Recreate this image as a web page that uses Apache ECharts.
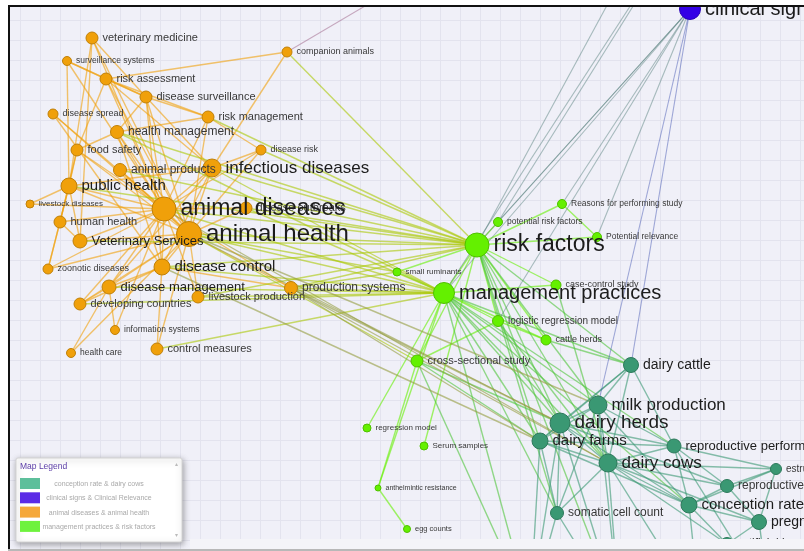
<!DOCTYPE html>
<html>
<head>
<meta charset="utf-8">
<script src="https://cdn.jsdelivr.net/npm/echarts@6/dist/echarts.min.js"></script>
<style>
  html, body { margin: 0; padding: 0; background: #fff; }
  #chart { position: absolute; left: 0; top: 0; width: 804px; height: 551px; }
  .mask { position: absolute; background: #fff; z-index: 5; }
</style>
</head>
<body>
<div id="chart"></div>
<div class="mask" style="left:0;top:0;width:804px;height:5px"></div>
<div class="mask" style="left:0;top:0;width:8px;height:551px"></div>
<div class="mask" style="left:8px;top:5px;width:796px;height:2px;background:#111"></div>
<div class="mask" style="left:8px;top:5px;width:2px;height:545px;background:#111"></div>
<div class="mask" style="left:190px;top:539px;width:614px;height:10px;background:#f4f4f8"></div>
<div class="mask" style="left:8px;top:549px;width:796px;height:2px;background:#b8b8b8"></div>
<script>
// clusters of the keyword map
const clusters = [
  'conception rate & dairy cows',
  'clinical signs & Clinical Relevance',
  'animal diseases & animal health',
  'management practices & risk factors'
]
const clusterColors = ['#3a9873', '#3300e6', '#f0a00a', '#64f000']
const legendColors = ['#5dbf9b', '#5b2be6', '#f5a83a', '#6ef23d']

// [keyword, map x, map y, weight]
const dairyNodes = [
  ['dairy cattle', 631, 365, 15],
  ['milk production', 598, 405, 18],
  ['dairy herds', 560, 423, 20],
  ['dairy farms', 540, 441, 16],
  ['reproductive performance', 674, 446, 14],
  ['dairy cows', 608, 463, 18],
  ['estrus detection', 776, 469, 11],
  ['reproductive efficiency', 727, 486, 13],
  ['somatic cell count', 557, 513, 13],
  ['conception rate', 689, 505, 16],
  ['pregnancy rate', 759, 522, 15],
  ['artificial insemination', 727, 544, 13],
  ['calving interval', 530, 610, 12],
  ['lactation', 620, 615, 12],
  ['fertility', 700, 610, 12],
  ['heifers', 770, 600, 12]
]
const clinicalNodes = [
  ['clinical signs', 690, 9, 21],
  ['Clinical Relevance', 675, -120, 16],
  ['clinical examination', 712, -120, 14],
  ['diagnosis', 477, -60, 12]
]
const animalNodes = [
  ['veterinary medicine', 92, 38, 12],
  ['surveillance systems', 67, 61, 9],
  ['risk assessment', 106, 79, 12],
  ['disease surveillance', 146, 97, 12],
  ['companion animals', 287, 52, 10],
  ['disease spread', 53, 114, 10],
  ['risk management', 208, 117, 12],
  ['health management', 117, 132, 13],
  ['disease risk', 261, 150, 10],
  ['food safety', 77, 150, 12],
  ['animal products', 120, 170, 13],
  ['infectious diseases', 212, 168, 18],
  ['public health', 69, 186, 16],
  ['livestock diseases', 30, 204, 8],
  ['disease outbreaks', 246, 208, 12],
  ['animal diseases', 164, 209, 24],
  ['human health', 60, 222, 12],
  ['animal health', 189, 234, 25],
  ['Veterinary Services', 80, 241, 14],
  ['zoonotic diseases', 48, 269, 10],
  ['disease control', 162, 267, 16],
  ['disease management', 109, 287, 14],
  ['livestock production', 198, 297, 12],
  ['production systems', 291, 288, 13],
  ['developing countries', 80, 304, 12],
  ['information systems', 115, 330, 9],
  ['control measures', 157, 349, 12],
  ['health care', 71, 353, 9]
]
const practiceNodes = [
  ['risk factors', 477, 245, 24],
  ['management practices', 444, 293, 21],
  ['Reasons for performing study', 562, 204, 9],
  ['potential risk factors', 498, 222, 9],
  ['Potential relevance', 597, 237, 9],
  ['small ruminants', 397, 272, 8],
  ['case-control study', 556, 285, 10],
  ['logistic regression model', 498, 321, 11],
  ['cattle herds', 546, 340, 10],
  ['cross-sectional study', 417, 361, 12],
  ['regression model', 367, 428, 8],
  ['Serum samples', 424, 446, 8],
  ['anthelmintic resistance', 378, 488, 6],
  ['egg counts', 407, 529, 7]
]
const hiddenLabels = ['calving interval', 'lactation', 'fertility', 'heifers',
  'Clinical Relevance', 'clinical examination', 'diagnosis']

const animalLinks = [
  ['veterinary medicine', 'animal diseases'], ['veterinary medicine', 'animal health'],
  ['veterinary medicine', 'public health'], ['veterinary medicine', 'Veterinary Services'],
  ['veterinary medicine', 'disease surveillance'], ['surveillance systems', 'disease surveillance'],
  ['surveillance systems', 'animal diseases'], ['surveillance systems', 'public health'],
  ['surveillance systems', 'risk assessment'], ['risk assessment', 'animal diseases'],
  ['risk assessment', 'animal health'], ['risk assessment', 'disease surveillance'],
  ['risk assessment', 'companion animals'], ['risk assessment', 'infectious diseases'],
  ['risk assessment', 'risk management'], ['risk assessment', 'food safety'],
  ['disease surveillance', 'animal diseases'], ['disease surveillance', 'animal health'],
  ['disease surveillance', 'infectious diseases'], ['disease surveillance', 'disease control'],
  ['disease surveillance', 'health management'], ['disease surveillance', 'risk management'],
  ['companion animals', 'infectious diseases'], ['disease spread', 'animal diseases'],
  ['disease spread', 'animal health'], ['disease spread', 'disease control'],
  ['risk management', 'health management'], ['risk management', 'animal health'],
  ['risk management', 'animal diseases'], ['risk management', 'disease risk'],
  ['health management', 'animal diseases'], ['health management', 'animal health'],
  ['health management', 'disease control'], ['health management', 'food safety'],
  ['disease risk', 'animal diseases'], ['disease risk', 'animal health'],
  ['disease risk', 'infectious diseases'], ['food safety', 'public health'],
  ['food safety', 'animal diseases'], ['food safety', 'animal health'],
  ['food safety', 'human health'], ['animal products', 'animal diseases'],
  ['animal products', 'animal health'], ['animal products', 'infectious diseases'],
  ['infectious diseases', 'animal diseases'], ['infectious diseases', 'animal health'],
  ['infectious diseases', 'disease control'], ['infectious diseases', 'public health'],
  ['infectious diseases', 'disease management'], ['public health', 'animal diseases'],
  ['public health', 'animal health'], ['public health', 'human health'],
  ['public health', 'zoonotic diseases'], ['public health', 'Veterinary Services'],
  ['livestock diseases', 'animal diseases'], ['livestock diseases', 'public health'],
  ['animal diseases', 'animal health'], ['animal diseases', 'disease outbreaks'],
  ['animal diseases', 'Veterinary Services'], ['animal diseases', 'disease control'],
  ['animal diseases', 'disease management'], ['animal diseases', 'livestock production'],
  ['animal diseases', 'production systems'], ['animal diseases', 'developing countries'],
  ['animal diseases', 'information systems'], ['animal diseases', 'human health'],
  ['animal diseases', 'zoonotic diseases'], ['animal health', 'Veterinary Services'],
  ['animal health', 'disease control'], ['animal health', 'disease management'],
  ['animal health', 'livestock production'], ['animal health', 'production systems'],
  ['animal health', 'developing countries'], ['animal health', 'control measures'],
  ['animal health', 'health care'], ['animal health', 'disease outbreaks'],
  ['disease control', 'disease management'], ['disease control', 'developing countries'],
  ['disease control', 'production systems'], ['disease control', 'control measures'],
  ['disease management', 'developing countries'], ['disease management', 'health care'],
  ['disease management', 'information systems'], ['human health', 'zoonotic diseases'],
  ['human health', 'Veterinary Services'], ['zoonotic diseases', 'animal health']
]
const practiceLinks = [
  ['risk factors', 'management practices'], ['risk factors', 'potential risk factors'],
  ['risk factors', 'small ruminants'], ['risk factors', 'case-control study'],
  ['risk factors', 'logistic regression model'], ['risk factors', 'cattle herds'],
  ['risk factors', 'cross-sectional study'], ['risk factors', 'Reasons for performing study'],
  ['risk factors', 'Potential relevance'], ['risk factors', 'Serum samples'],
  ['Reasons for performing study', 'Potential relevance'],
  ['management practices', 'small ruminants'], ['management practices', 'case-control study'],
  ['management practices', 'logistic regression model'], ['management practices', 'cattle herds'],
  ['management practices', 'cross-sectional study'], ['management practices', 'regression model'],
  ['management practices', 'anthelmintic resistance'],
  ['cross-sectional study', 'anthelmintic resistance'], ['anthelmintic resistance', 'egg counts'],
  ['logistic regression model', 'cross-sectional study'], ['logistic regression model', 'cattle herds']
]
const crossLinks = [
  ['risk factors', 'companion animals'], ['risk factors', 'risk management'],
  ['risk factors', 'disease risk'], ['risk factors', 'infectious diseases'],
  ['risk factors', 'animal products'], ['risk factors', 'animal diseases'],
  ['risk factors', 'disease outbreaks'], ['risk factors', 'animal health'],
  ['risk factors', 'disease control'], ['risk factors', 'production systems'],
  ['risk factors', 'public health'], ['risk factors', 'health management'],
  ['risk factors', 'livestock production'], ['risk factors', 'Veterinary Services'],
  ['management practices', 'animal health'], ['management practices', 'animal diseases'],
  ['management practices', 'production systems'], ['management practices', 'disease control'],
  ['management practices', 'disease management'], ['management practices', 'livestock production'],
  ['management practices', 'control measures'], ['management practices', 'infectious diseases'],
  ['management practices', 'disease outbreaks'], ['management practices', 'health management'],
  ['management practices', 'developing countries'], ['small ruminants', 'animal health'],
  ['small ruminants', 'production systems'], ['cross-sectional study', 'animal health'],
  ['risk factors', 'dairy herds'], ['risk factors', 'dairy farms'],
  ['risk factors', 'dairy cows'], ['risk factors', 'dairy cattle'],
  ['risk factors', 'milk production'], ['risk factors', 'somatic cell count'],
  ['management practices', 'dairy herds'], ['management practices', 'dairy farms'],
  ['management practices', 'dairy cows'], ['management practices', 'milk production'],
  ['management practices', 'dairy cattle'], ['management practices', 'reproductive performance'],
  ['management practices', 'somatic cell count'], ['management practices', 'conception rate'],
  ['cattle herds', 'dairy cattle'], ['logistic regression model', 'dairy herds'],
  ['logistic regression model', 'dairy cows'], ['cross-sectional study', 'dairy farms'],
  ['cross-sectional study', 'dairy herds'], ['case-control study', 'dairy cows'],
  ['management practices', 'calving interval'], ['cross-sectional study', 'calving interval'],
  ['risk factors', 'lactation'],
  ['production systems', 'dairy herds'], ['production systems', 'dairy farms'],
  ['production systems', 'dairy cows'], ['animal health', 'dairy herds'],
  ['animal health', 'milk production'], ['disease control', 'dairy farms'],
  ['animal diseases', 'dairy cows']
]
const dairyLinks = [
  ['dairy cattle', 'milk production'], ['dairy cattle', 'dairy herds'],
  ['dairy cattle', 'dairy cows'], ['dairy cattle', 'dairy farms'],
  ['dairy cattle', 'reproductive performance'], ['milk production', 'dairy herds'],
  ['milk production', 'dairy farms'], ['milk production', 'dairy cows'],
  ['milk production', 'reproductive performance'], ['milk production', 'conception rate'],
  ['milk production', 'somatic cell count'], ['dairy herds', 'dairy farms'],
  ['dairy herds', 'dairy cows'], ['dairy herds', 'reproductive performance'],
  ['dairy herds', 'conception rate'], ['dairy herds', 'somatic cell count'],
  ['dairy herds', 'reproductive efficiency'], ['dairy farms', 'dairy cows'],
  ['dairy farms', 'somatic cell count'], ['dairy farms', 'conception rate'],
  ['dairy farms', 'reproductive performance'], ['dairy cows', 'reproductive performance'],
  ['dairy cows', 'conception rate'], ['dairy cows', 'reproductive efficiency'],
  ['dairy cows', 'pregnancy rate'], ['dairy cows', 'estrus detection'],
  ['dairy cows', 'somatic cell count'], ['dairy cows', 'artificial insemination'],
  ['reproductive performance', 'estrus detection'], ['reproductive performance', 'reproductive efficiency'],
  ['reproductive performance', 'conception rate'], ['conception rate', 'reproductive efficiency'],
  ['conception rate', 'pregnancy rate'], ['conception rate', 'artificial insemination'],
  ['conception rate', 'estrus detection'], ['reproductive efficiency', 'estrus detection'],
  ['reproductive efficiency', 'pregnancy rate'], ['pregnancy rate', 'artificial insemination'],
  ['estrus detection', 'pregnancy rate'],
  ['dairy herds', 'calving interval'], ['dairy farms', 'calving interval'],
  ['dairy cows', 'lactation'], ['somatic cell count', 'lactation'],
  ['milk production', 'lactation'], ['conception rate', 'fertility'],
  ['dairy cows', 'fertility'], ['reproductive performance', 'heifers'],
  ['pregnancy rate', 'heifers'], ['somatic cell count', 'calving interval'],
  ['dairy herds', 'lactation']
]
const clinicalLinks = [
  ['clinical signs', 'milk production'], ['clinical signs', 'dairy cattle'],
  ['clinical signs', 'risk factors'], ['clinical signs', 'management practices'],
  ['clinical signs', 'potential risk factors'], ['clinical signs', 'Reasons for performing study'],
  ['clinical signs', 'Potential relevance'], ['clinical signs', 'logistic regression model'],
  ['Clinical Relevance', 'risk factors'], ['clinical examination', 'management practices'],
  ['clinical examination', 'potential risk factors'], ['diagnosis', 'companion animals']
]

function rgb(hex) {
  return [1, 3, 5].map(i => parseInt(hex.slice(i, i + 2), 16))
}
function mix(a, b) {
  const p = rgb(a), q = rgb(b)
  return 'rgb(' + p.map((v, i) => Math.round((v + q[i]) / 2)).join(',') + ')'
}
function shade(hex, k) {
  return 'rgb(' + rgb(hex).map(v => Math.round(v * k)).join(',') + ')'
}

const clusterOf = {}
const nodes = []
;[dairyNodes, clinicalNodes, animalNodes, practiceNodes].forEach((list, c) => {
  list.forEach(([name, x, y, w]) => {
    clusterOf[name] = c
    const fs = w > 9 ? w - 1 : (w + 8) / 2
    nodes.push({
      name: name,
      value: [x, y],
      category: c,
      symbolSize: w,
      itemStyle: { borderColor: shade(clusterColors[c], 0.8) },
      label: {
        show: hiddenLabels.indexOf(name) < 0,
        fontSize: fs,
        color: w >= 14 ? '#1c1c1c' : '#383838'
      }
    })
  })
})

const links = [...animalLinks, ...practiceLinks, ...crossLinks, ...dairyLinks, ...clinicalLinks]
  .filter(([s, t]) => s in clusterOf && t in clusterOf)
  .map(([s, t]) => {
    const blue = clusterOf[s] === 1 || clusterOf[t] === 1
    return {
      source: s,
      target: t,
      lineStyle: {
        color: mix(clusterColors[clusterOf[s]], clusterColors[clusterOf[t]]),
        opacity: blue ? 0.45 : 0.6,
        width: blue ? 1.1 : 1.4
      }
    }
  })

const font = '"Liberation Sans", Arial, sans-serif'
const legendItems = []
clusters.forEach((name, i) => {
  legendItems.push({
    type: 'rect', z: 101,
    shape: { x: 20, y: 478 + i * 14.3, width: 20, height: 11 },
    style: { fill: legendColors[i] }
  })
  legendItems.push({
    type: 'text', z: 101, x: 99, y: 484 + i * 14.3,
    style: { text: name, fill: '#a9a9a9', font: '7px ' + font, align: 'center', verticalAlign: 'middle' }
  })
})

const chart = echarts.init(document.getElementById('chart'))
chart.setOption({
  animation: false,
  grid: { left: 0, right: 0, top: 0, bottom: 0, show: true, backgroundColor: '#f0f0f8', borderWidth: 0 },
  xAxis: {
    type: 'value', min: 0, max: 804, interval: 20,
    axisLine: { show: false }, axisTick: { show: false }, axisLabel: { show: false },
    splitLine: { lineStyle: { color: '#e3e3ee', width: 1 } }
  },
  yAxis: {
    type: 'value', min: 0, max: 551, interval: 20, inverse: true,
    axisLine: { show: false }, axisTick: { show: false }, axisLabel: { show: false },
    splitLine: { lineStyle: { color: '#e3e3ee', width: 1 } }
  },
  graphic: [
    {
      type: 'rect', z: 100,
      shape: { x: 16, y: 458, width: 166, height: 84, r: 2 },
      style: {
        fill: '#fff', stroke: '#d4d4d4', lineWidth: 1,
        shadowBlur: 6, shadowColor: 'rgba(0,0,0,0.35)', shadowOffsetX: 1, shadowOffsetY: 2
      }
    },
    {
      type: 'text', z: 101, x: 20, y: 467,
      style: { text: 'Map Legend', fill: '#5a3ca6', font: '8.5px ' + font, verticalAlign: 'middle' }
    },
    {
      type: 'text', z: 101, x: 176, y: 464,
      style: { text: '▴', fill: '#bbb', font: '6px ' + font, align: 'center', verticalAlign: 'middle' }
    },
    {
      type: 'text', z: 101, x: 176, y: 535,
      style: { text: '▾', fill: '#bbb', font: '6px ' + font, align: 'center', verticalAlign: 'middle' }
    },
    ...legendItems
  ],
  series: [
    {
      type: 'graph',
      layout: 'none',
      coordinateSystem: 'cartesian2d',
      categories: clusters.map((name, i) => ({ name: name, itemStyle: { color: clusterColors[i] } })),
      data: nodes,
      links: links,
      itemStyle: { borderWidth: 1 },
      lineStyle: { width: 1.4, opacity: 0.6, curveness: 0 },
      label: { show: true, position: 'right', distance: 4, fontFamily: font },
      emphasis: { disabled: true },
      z: 2
    }
  ]
})
</script>
</body>
</html>
